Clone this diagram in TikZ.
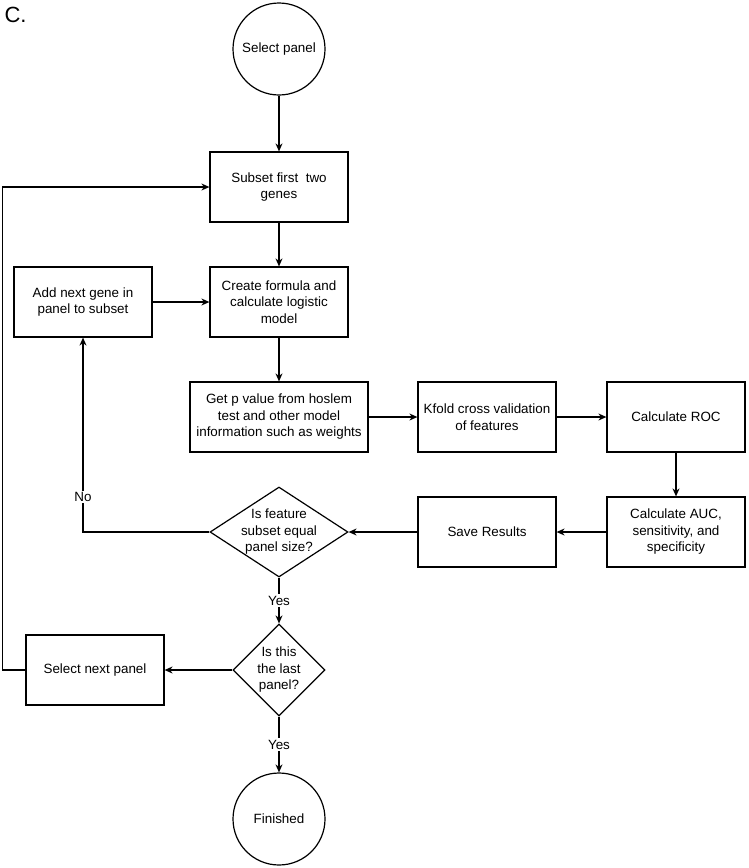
\documentclass[tikz,border=0pt]{standalone}
\usepackage{fontspec}
\setmainfont{Liberation Sans}
\usetikzlibrary{shapes.geometric,arrows.meta}

\begin{document}
\begin{tikzpicture}[
    x=1pt,y=-1pt,
    font=\fontsize{13.4}{16.5}\selectfont,
    box/.style={draw,align=center,inner sep=2pt,minimum width=138pt,minimum height=70pt,line width=1.2pt},
    term/.style={draw,circle,minimum size=92pt,inner sep=0pt,line width=1.2pt},
    dec/.style={draw,diamond,inner sep=0pt,line width=1.2pt},
    lbl/.style={fill=white,inner sep=1.5pt},
    arr/.style={-{Stealth[length=8pt,width=7pt]},line width=1.2pt}
]
\useasboundingbox (0,0) rectangle (748,868);
\node[anchor=west,font=\fontsize{22}{24}\selectfont] (tag) at (1,15) {C.};

\node[term] (sel) at (279,49) {Select panel};
\node[box] (sub) at (279,187) {Subset first\ \ two\\genes};
\node[box] (cre) at (279,302) {Create formula and\\calculate logistic\\model};
\node[box] (add) at (83,302) {Add next gene in\\panel to subset};
\node[box,minimum width=178pt] (getp) at (279,417) {Get p value from hoslem\\test and other model\\information such as weights};
\node[box] (kf) at (487,417) {Kfold cross validation\\of features};
\node[box] (roc) at (676,417) {Calculate ROC};
\node[box] (auc) at (676,532) {Calculate AUC,\\sensitivity, and\\specificity};
\node[box] (save) at (487,532) {Save Results};
\node[dec,minimum width=138pt,minimum height=90pt,
      label={[align=center]center:{Is feature\\subset equal\\panel size?}}] (d1) at (279,532) {};
\node[dec,minimum width=92pt,minimum height=92pt,
      label={[align=center]center:{Is this\\the last\\panel?}}] (d2) at (279,670) {};
\node[box] (nxt) at (95,670) {Select next panel};
\node[term] (fin) at (279,819) {Finished};

\draw[arr] (sel) -- (sub);
\draw[arr] (sub) -- (cre);
\draw[arr] (add) -- (cre);
\draw[arr] (cre) -- (getp);
\draw[arr] (getp) -- (kf);
\draw[arr] (kf) -- (roc);
\draw[arr] (roc) -- (auc);
\draw[arr] (auc) -- (save);
\draw[arr] (save) -- (d1);
\draw[arr] (d1) -| node[lbl,pos=0.59] {No} (add);
\draw[arr] (d1) -- node[lbl] {Yes} (d2);
\draw[arr] (d2) -- (nxt);
\draw[arr] (d2) -- node[lbl] {Yes} (fin);
\draw[arr] (nxt.west) -- ++(-23,0) |- (sub.west);
\end{tikzpicture}
\end{document}
